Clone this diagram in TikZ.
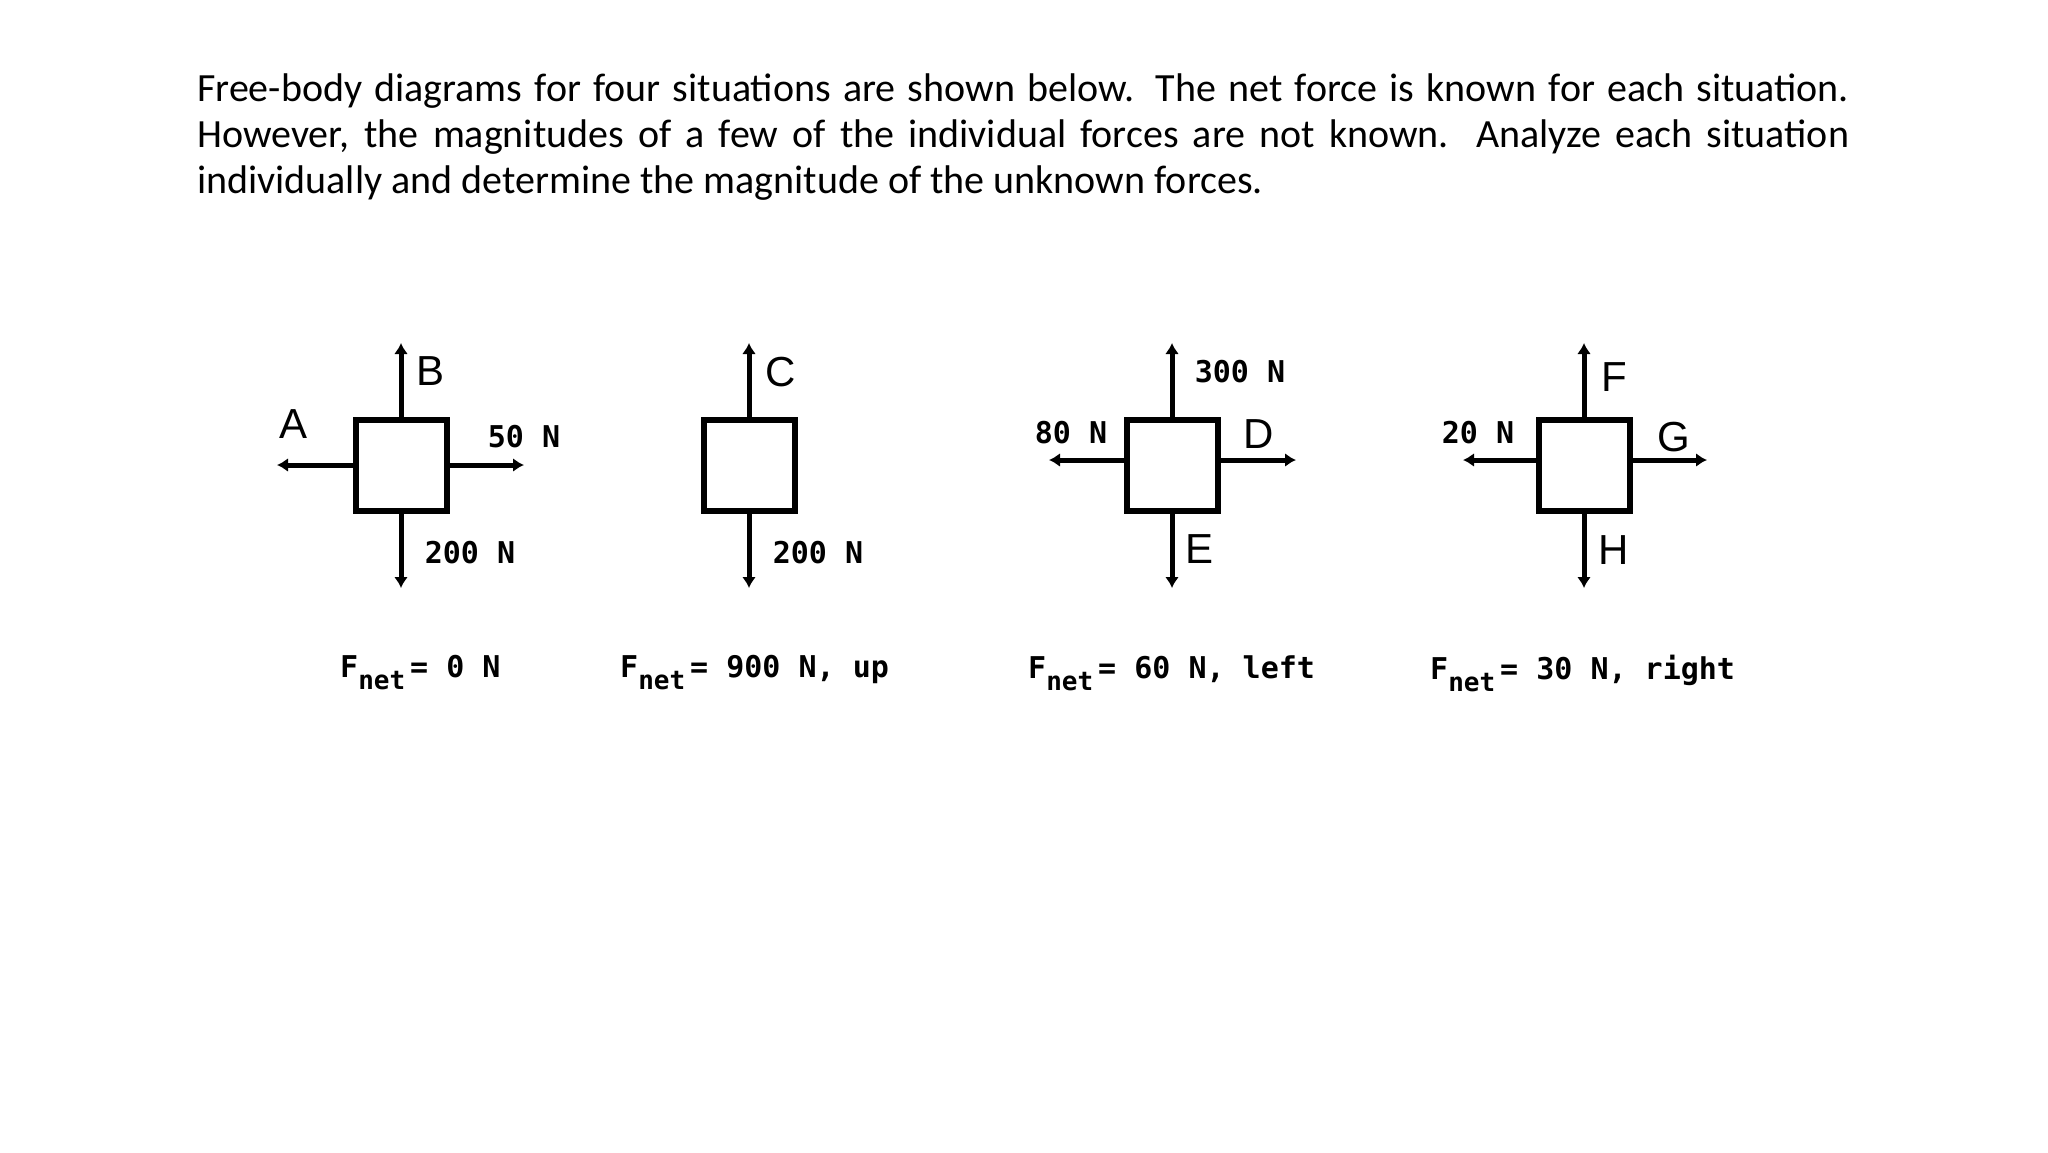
\documentclass[tikz,border=0pt]{standalone}
\usepackage{fontspec}
\setmainfont{Carlito}
\newfontfamily\pix{DejaVu Sans Mono}
\newfontfamily\thin{Liberation Sans}
\usetikzlibrary{arrows.meta}
\begin{document}
\begin{tikzpicture}[x=1pt,y=-1pt,
  body/.style={draw,line width=6pt,minimum size=91pt,inner sep=0pt},
  force/.style={line width=5pt,-{Latex[length=11pt,width=14pt]}},
  num/.style={font=\pix\bfseries\fontsize{30}{30}\selectfont,inner sep=0pt},
  let/.style={font=\thin\fontsize{42}{42}\selectfont,inner sep=0pt},
  net/.style={font=\pix\bfseries\fontsize{30}{30}\selectfont,inner sep=0pt,anchor=west}]
\useasboundingbox (0,0) rectangle (2048,1152);
\node[anchor=north west,inner sep=0pt,text width=1652pt,align=justify,
  font=\fontsize{40}{46}\selectfont] (txt) at (197,74)
 {\hyphenpenalty=10000 Free-body diagrams for four situations are shown below. The net force is known for each situation.\linebreak However, the magnitudes of a few of the individual forces are not known. Analyze each situation\linebreak individually and determine the magnitude of the unknown forces.};
\newcommand{\fnet}[1]{F\raisebox{-0.4em}{\fontsize{26}{26}\selectfont net}\,#1}
% diagram 1
\node[body] (b1) at (401,465) {};
\coordinate (b1u) at (401,343); \coordinate (b1d) at (401,588);
\coordinate (b1l) at (277,465); \coordinate (b1r) at (524,465);
\draw[force] (b1.north) -- (b1u); \draw[force] (b1.south) -- (b1d);
\draw[force] (b1.west) -- (b1l); \draw[force] (b1.east) -- (b1r);
\node[let] (la) at (294,424) {A};
\node[let] (lb) at (431,371) {B};
\node[num] (l50) at (524,437) {50 N};
\node[num] (l200a) at (470,553) {200 N};
\node[net] (n1) at (340,673) {\fnet{= 0 N}};
% diagram 2
\node[body] (b2) at (749,465) {};
\coordinate (b2u) at (749,343); \coordinate (b2d) at (749,588);
\draw[force] (b2.north) -- (b2u); \draw[force] (b2.south) -- (b2d);
\node[let] (lc) at (781,372) {C};
\node[num] (l200b) at (818,553) {200 N};
\node[net] (n2) at (620,673) {\fnet{= 900 N, up}};
% diagram 3
\node[body] (b3) at (1172,465) {};
\coordinate (b3u) at (1172,343); \coordinate (b3d) at (1172,588);
\coordinate (b3l) at (1049,460); \coordinate (b3r) at (1296,460);
\draw[force] (b3.north) -- (b3u); \draw[force] (b3.south) -- (b3d);
\draw[force] (b3.west|-b3l) -- (b3l); \draw[force] (b3.east|-b3r) -- (b3r);
\node[num] (l300) at (1240,372) {300 N};
\node[num] (l80) at (1071,433) {80 N};
\node[let] (ld) at (1259,434) {D};
\node[let] (le) at (1199,549) {E};
\node[net] (n3) at (1028,673) {\fnet{= 60 N, left}};
% diagram 4
\node[body] (b4) at (1584,465) {};
\coordinate (b4u) at (1584,343); \coordinate (b4d) at (1584,588);
\coordinate (b4l) at (1463,460); \coordinate (b4r) at (1707,460);
\draw[force] (b4.north) -- (b4u); \draw[force] (b4.south) -- (b4d);
\draw[force] (b4.west|-b4l) -- (b4l); \draw[force] (b4.east|-b4r) -- (b4r);
\node[let] (lf) at (1614,377) {F};
\node[num] (l20) at (1478,433) {20 N};
\node[let] (lg) at (1674,437) {G};
\node[let] (lh) at (1614,550) {H};
\node[net] (n4) at (1430,673) {\fnet{= 30 N, right}};
\end{tikzpicture}
\end{document}
